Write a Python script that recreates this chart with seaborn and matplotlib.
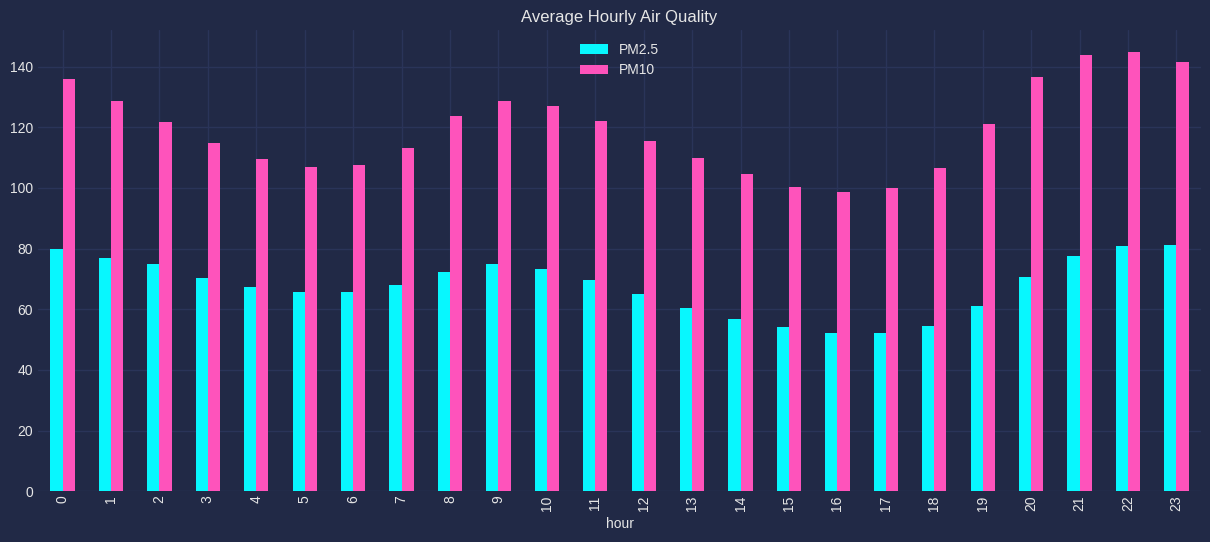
import pandas as pd
import matplotlib
matplotlib.use("Agg")
import matplotlib.pyplot as plt
import seaborn as sns

hours = list(range(24))
pm25 = [79.9, 76.9, 74.9, 70.3, 67.3, 65.7, 65.7, 68.0, 72.3, 74.9, 73.3, 69.7,
        65.1, 60.5, 56.8, 54.2, 52.2, 52.2, 54.5, 61.1, 70.6, 77.6, 80.9, 81.2]
pm10 = [136.0, 128.7, 121.8, 114.9, 109.6, 107.0, 107.7, 113.2, 123.7, 128.7, 127.0, 122.1,
        115.5, 109.9, 104.6, 100.3, 98.7, 100.0, 106.6, 121.1, 136.6, 143.8, 144.8, 141.5]
series_names = ["PM2.5", "PM10"]
colors = ["#08F7FE", "#FE53BB"]

bg = "#212946"
grid_c = "#2A3459"
txt = "0.9"

df = pd.DataFrame({"hour": hours, "PM2.5": pm25, "PM10": pm10})
long_df = df.melt(id_vars="hour", value_vars=series_names, var_name="pollutant", value_name="value")

sns.set_theme(style="darkgrid", rc={
    "axes.facecolor": bg,
    "figure.facecolor": bg,
    "grid.color": grid_c,
    "grid.linewidth": 1.0,
    "axes.edgecolor": bg,
    "text.color": txt,
    "axes.labelcolor": txt,
    "xtick.color": txt,
    "ytick.color": txt,
    "xtick.major.size": 0,
    "ytick.major.size": 0,
})
plt.rcParams["font.family"] = ["Liberation Sans", "DejaVu Sans"]

fig, ax = plt.subplots(figsize=(12.1, 5.42), dpi=100)
fig.subplots_adjust(left=0.0317, right=0.9923, top=0.9446, bottom=0.0935)

sns.barplot(data=long_df, x="hour", y="value", hue="pollutant", hue_order=series_names,
            palette=colors, width=0.5, saturation=1, linewidth=0, edgecolor="none",
            ax=ax, legend=True)

ax.set_xlim(-0.5, 23.5)
ax.set_ylim(0, max(pm10) * 1.05)
ax.set_axisbelow(True)
ax.grid(True, axis="both", color=grid_c)
for s in ax.spines.values():
    s.set_visible(False)

ax.tick_params(axis="x", labelrotation=90, labelsize=10, pad=3)
ax.tick_params(axis="y", labelsize=10, pad=4)
ax.set_xlabel("hour", fontsize=10, labelpad=4)
ax.set_ylabel("")
ax.set_title("Average Hourly Air Quality", fontsize=12, color=txt, pad=6)

handles, labels = ax.get_legend_handles_labels()
leg = ax.legend(handles, labels, loc="upper center", frameon=False, fontsize=10)
for t in leg.get_texts():
    t.set_color(txt)

fig.savefig("out.png", dpi=100, facecolor=bg)
